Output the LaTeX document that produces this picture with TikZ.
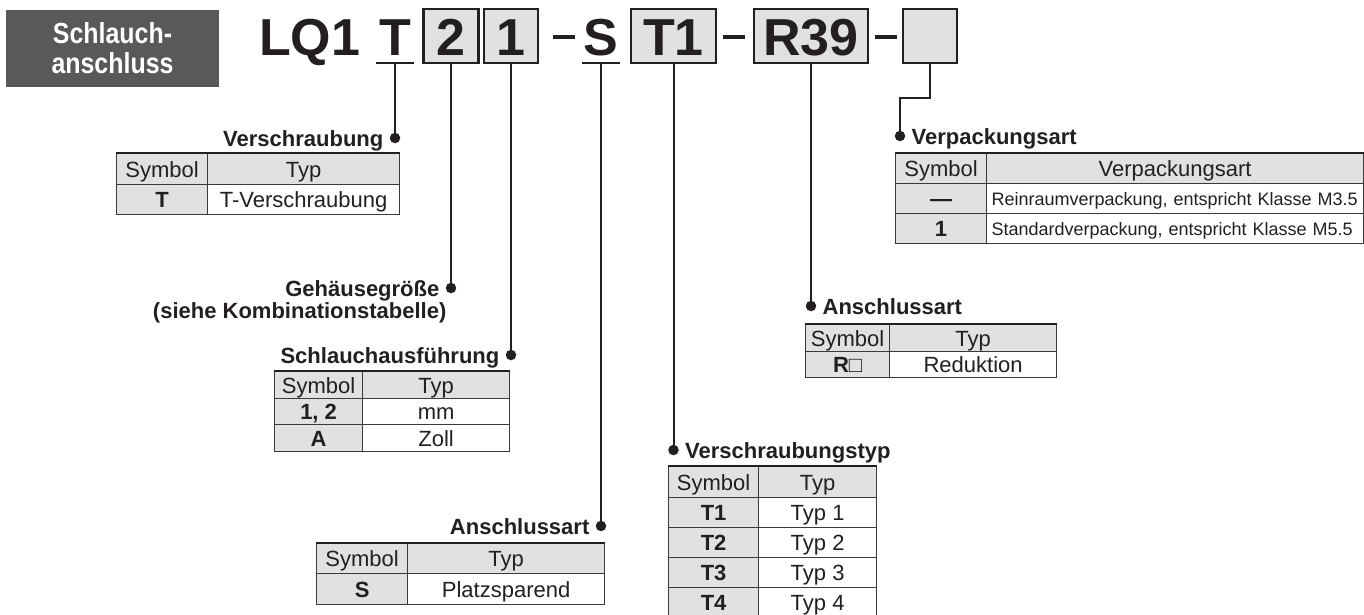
\documentclass[tikz,border=0pt]{standalone}
\usepackage{fontspec}
\setmainfont{Liberation Sans}
\newfontfamily\condfont[FakeStretch=0.86]{Liberation Sans}
\usepackage{tikz}
\usetikzlibrary{positioning}

\definecolor{inkcol}{HTML}{231F20}
\definecolor{titlegrey}{HTML}{58595B}
\definecolor{boxgrey}{HTML}{E0E1E2}
\definecolor{rulegrey}{HTML}{3A3A3C}

\newcommand{\codesize}{\fontsize{52}{52}\selectfont\bfseries}
\newcommand{\lblsize}{\fontsize{22}{24}\selectfont\bfseries}
\newcommand{\tabsize}{\fontsize{22}{24}\selectfont}
\newcommand{\notesize}{\fontsize{18}{20}\selectfont}

\tikzset{
  titlebox/.style={fill=titlegrey, text=white, minimum width=213pt, minimum height=77pt, align=center, inner sep=0pt, font=\condfont\fontsize{29}{30}\selectfont\bfseries},
  codebox/.style={draw=inkcol, line width=2.2pt, fill=boxgrey, minimum height=54pt, inner sep=0pt, text height=38pt, text depth=0pt, text=inkcol, font=\codesize},
  codechar/.style={inner sep=0pt, text height=38pt, text depth=0pt, text=inkcol, font=\codesize, anchor=base},
  hyph/.style={fill=inkcol, minimum width=22pt, minimum height=3.3pt, inner sep=0pt},
  lead/.style={draw=inkcol, line width=2pt},
  knob/.style={circle, fill=inkcol, minimum size=10.5pt, inner sep=0pt},
  lbl/.style={inner sep=0pt, text height=16pt, text depth=0pt, text=inkcol, font=\lblsize},
  cell/.style={draw=rulegrey, line width=1.2pt, inner sep=0pt, text height=16pt, text depth=0pt, text=inkcol, font=\tabsize, anchor=north west},
  headcell/.style={cell, fill=boxgrey},
  symcell/.style={cell, fill=boxgrey, font=\tabsize\bfseries},
  txtcell/.style={cell, fill=white},
  notecell/.style={txtcell, font=\notesize, text height=13pt, align=left, text width=367pt, inner xsep=5pt},
  topline/.style={draw=inkcol, line width=2.6pt},
}

\begin{document}
\begin{tikzpicture}[x=1pt, y=-1pt]
    \useasboundingbox (0,0) rectangle (1364,614);

    % Title
    \node[titlebox] (title) at (112.5,48.5) {Schlauch-\\anschluss};

    % Order code
    \node[codechar, anchor=base west] (lq) at (259,55) {LQ1};
    \node[codechar, inner xsep=2.6pt, inner ysep=8pt] (tee) at (395,55) {T};
    \draw[lead] (tee.south west) -- (tee.south east);
    \node[codebox, minimum width=55pt] (size) at (451,36) {2};
    \node[codebox, minimum width=54pt] (tube) at (511,36) {1};
    \node[hyph] (dash1) at (564,37) {};
    \node[codechar, inner xsep=1.2pt, inner ysep=8pt] (port) at (601,55) {S};
    \draw[lead] (port.south west) -- (port.south east);
    \node[codebox, minimum width=85pt] (fitg) at (673.5,36) {T1};
    \node[hyph] (dash2) at (733.5,37) {};
    \node[codebox, minimum width=114pt] (reduce) at (811,36) {R39};
    \node[hyph] (dash3) at (886,37) {};
    \node[codebox, minimum width=54pt] (pack) at (930,36) {};

    % Dots and labels
    \node[knob] (vs-dot) at (395,138) {};
    \node[lbl, left=6pt of vs-dot] (vs-lbl) {Verschraubung};
    \node[knob] (gh-dot) at (451,288) {};
    \node[lbl, left=6pt of gh-dot] (gh-lbl) {Gehäusegröße};
    \node[lbl, below=6pt of gh-lbl.south east, anchor=north east, xshift=7pt] (gh-note) {(siehe Kombinationstabelle)};
    \node[knob] (sa-dot) at (511,355) {};
    \node[lbl, left=6pt of sa-dot] (sa-lbl) {Schlauchausführung};
    \node[knob] (an-dot) at (601,526) {};
    \node[lbl, left=6pt of an-dot] (an-lbl) {Anschlussart};
    \node[knob] (vt-dot) at (673.5,450) {};
    \node[lbl, right=6pt of vt-dot] (vt-lbl) {Verschraubungstyp};
    \node[knob] (ar-dot) at (811,306) {};
    \node[lbl, right=6pt of ar-dot] (ar-lbl) {Anschlussart};
    \node[knob] (vp-dot) at (900,136) {};
    \node[lbl, right=6pt of vp-dot] (vp-lbl) {Verpackungsart};

    % Leads
    \draw[lead] (tee.south) -- (vs-dot);
    \draw[lead] (size.south) -- (gh-dot);
    \draw[lead] (tube.south) -- (sa-dot);
    \draw[lead] (port.south) -- (an-dot);
    \draw[lead] (fitg.south) -- (vt-dot);
    \draw[lead] (reduce.south) -- (ar-dot);
    \coordinate (vp-bend) at (900,98);
    \draw[lead] (pack.south) |- (vp-bend) -- (vp-dot);

    % Table: Verschraubung
    \node[headcell, minimum width=91pt, minimum height=31pt] (vs-h1) at (116,153) {Symbol};
    \node[headcell, minimum width=192pt, minimum height=31pt] (vs-h2) at (207,153) {Typ};
    \node[symcell, minimum width=91pt, minimum height=30pt] (vs-s1) at (116,184) {T};
    \node[txtcell, minimum width=192pt, minimum height=30pt] (vs-t1) at (207,184) {T-Verschraubung};
    \draw[topline] (vs-h1.north west) -- (vs-h2.north east);

    % Table: Schlauchausfuehrung
    \node[headcell, minimum width=88pt, minimum height=27pt] (sa-h1) at (274,371) {Symbol};
    \node[headcell, minimum width=147pt, minimum height=27pt] (sa-h2) at (362,371) {Typ};
    \node[symcell, minimum width=88pt, minimum height=26pt] (sa-s1) at (274,398) {1, 2};
    \node[txtcell, minimum width=147pt, minimum height=26pt] (sa-t1) at (362,398) {mm};
    \node[symcell, minimum width=88pt, minimum height=27pt] (sa-s2) at (274,424) {A};
    \node[txtcell, minimum width=147pt, minimum height=27pt] (sa-t2) at (362,424) {Zoll};
    \draw[topline] (sa-h1.north west) -- (sa-h2.north east);

    % Table: Anschlussart (S)
    \node[headcell, minimum width=91pt, minimum height=30pt] (an-h1) at (316,543) {Symbol};
    \node[headcell, minimum width=197pt, minimum height=30pt] (an-h2) at (407,543) {Typ};
    \node[symcell, minimum width=91pt, minimum height=31pt] (an-s1) at (316,573) {S};
    \node[txtcell, minimum width=197pt, minimum height=31pt] (an-t1) at (407,573) {Platzsparend};
    \draw[topline] (an-h1.north west) -- (an-h2.north east);

    % Table: Verschraubungstyp
    \node[headcell, minimum width=90pt, minimum height=31pt] (vt-h1) at (668,466) {Symbol};
    \node[headcell, minimum width=118pt, minimum height=31pt] (vt-h2) at (758,466) {Typ};
    \foreach \i in {1,...,4} {
        \node[symcell, minimum width=90pt, minimum height=30pt] (vt-s\i) at (668,467+30*\i) {T\i};
        \node[txtcell, minimum width=118pt, minimum height=30pt] (vt-t\i) at (758,467+30*\i) {Typ \i};
    }
    \draw[topline] (vt-h1.north west) -- (vt-h2.north east);

    % Table: Anschlussart (R)
    \node[headcell, minimum width=84pt, minimum height=27pt] (ar-h1) at (805,324) {Symbol};
    \node[headcell, minimum width=167pt, minimum height=27pt] (ar-h2) at (889,324) {Typ};
    \node[symcell, minimum width=84pt, minimum height=26pt] (ar-s1) at (805,351) {R{\mdseries □}};
    \node[txtcell, minimum width=167pt, minimum height=26pt] (ar-t1) at (889,351) {Reduktion};
    \draw[topline] (ar-h1.north west) -- (ar-h2.north east);

    % Table: Verpackungsart
    \node[headcell, minimum width=91pt, minimum height=30pt] (vp-h1) at (895,153) {Symbol};
    \node[headcell, minimum width=377pt, minimum height=30pt] (vp-h2) at (986,153) {Verpackungsart};
    \node[symcell, minimum width=91pt, minimum height=30pt] (vp-s1) at (895,183) {—};
    \node[notecell, minimum height=30pt] (vp-t1) at (986,183) {Reinraumverpackung, entspricht Klasse M3.5};
    \node[symcell, minimum width=91pt, minimum height=30pt] (vp-s2) at (895,213) {1};
    \node[notecell, minimum height=30pt] (vp-t2) at (986,213) {Standardverpackung, entspricht Klasse M5.5};
    \draw[topline] (vp-h1.north west) -- (vp-h2.north east);
\end{tikzpicture}
\end{document}
